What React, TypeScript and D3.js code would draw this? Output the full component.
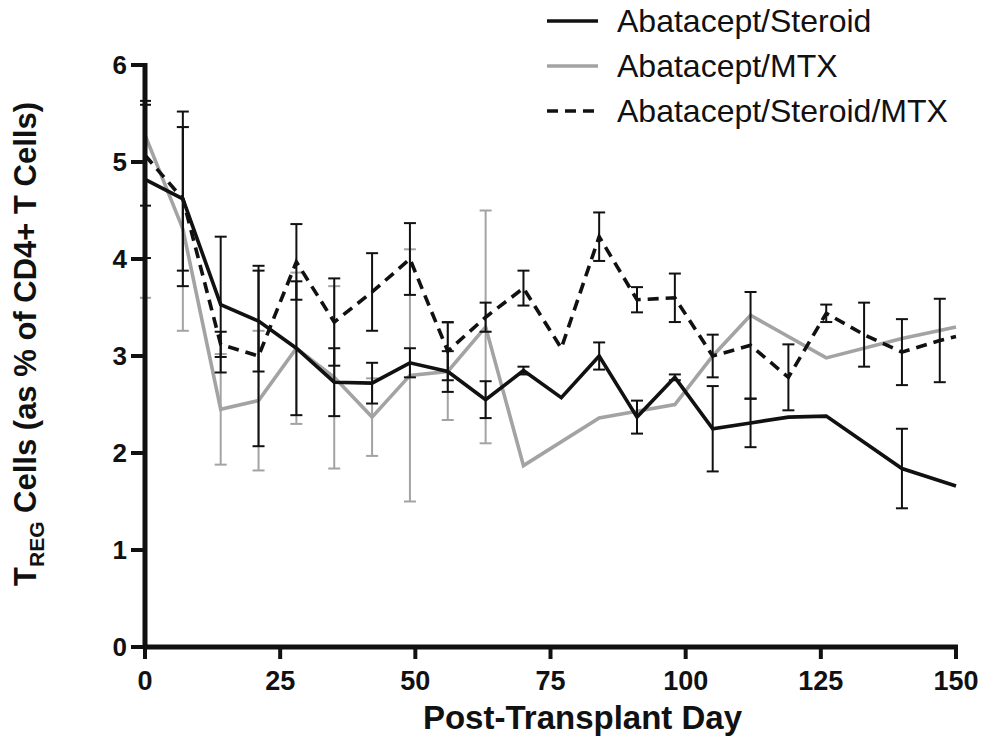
import React from "react";
import * as d3 from "d3";

const days = [0, 7, 14, 21, 28, 35, 42, 49, 56, 63, 70, 77, 84, 91, 98, 105, 112, 119, 126, 133, 140, 147, 150];

// null = no point on that day
const steroidMean = [4.82, 4.62, 3.53, 3.36, 3.08, 2.73, 2.72, 2.93, 2.84, 2.55, 2.85, 2.57, 3.0, 2.37, 2.78, 2.25, 2.31, 2.37, 2.38, null, 1.84, null, 1.66];
const steroidErr = [0.81, 0.9, 0.7, 0.52, 0.69, 0.35, 0.21, 0.15, 0.21, 0.19, 0.04, 0, 0.14, 0.17, 0.03, 0.44, 0.25, 0, 0.02, null, 0.41, null, 0];

const mtxMean = [5.28, 4.31, 2.45, 2.54, 3.08, 2.78, 2.37, 2.8, 2.84, 3.3, 1.87, null, 2.36, 2.43, 2.5, 3.0, 3.42, null, 2.98, null, 3.18, null, 3.3];
const mtxErr = [1.68, 1.05, 0.57, 0.72, 0.78, 0.94, 0.4, 1.3, 0.5, 1.2, 0, null, 0, 0, 0, 0, 0, null, 0, null, 0, null, 0];

const bothMean = [5.07, 4.62, 3.12, 3.0, 3.97, 3.35, 3.66, 4.0, 3.05, 3.4, 3.7, 3.08, 4.23, 3.58, 3.6, 3.0, 3.11, 2.78, 3.44, 3.22, 3.04, 3.16, 3.2];
const bothErr = [0.52, 0.74, 0.13, 0.93, 0.39, 0.45, 0.4, 0.37, 0.3, 0.15, 0.18, 0, 0.25, 0.13, 0.25, 0.22, 0.55, 0.34, 0.09, 0.33, 0.34, 0.43, 0];

const xTicks = [0, 25, 50, 75, 100, 125, 150];
const yTicks = [0, 1, 2, 3, 4, 5, 6];
const legendLabels = ["Abatacept/Steroid", "Abatacept/MTX", "Abatacept/Steroid/MTX"];

const FONT = "'Liberation Sans', Arial, Helvetica, sans-serif";
const BLACK = "#111";
const GRAY = "#a3a3a3";

export default function App() {
  const x = d3.scaleLinear().domain([0, 150]).range([145, 956]);
  const y = d3.scaleLinear().domain([0, 6]).range([647, 65]);

  const series = [
    { mean: mtxMean, err: mtxErr, color: GRAY, dash: null as string | null },
    { mean: steroidMean, err: steroidErr, color: BLACK, dash: null as string | null },
    { mean: bothMean, err: bothErr, color: BLACK, dash: "11,7" },
  ];

  const lineGen = d3
    .line<[number, number]>()
    .x((d) => x(d[0]))
    .y((d) => y(d[1]));

  const legendStyles = [
    { color: BLACK, dash: null as string | null },
    { color: GRAY, dash: null as string | null },
    { color: BLACK, dash: "11,7" },
  ];

  return (
    <svg
      width={982}
      height={754}
      style={{ position: "absolute", left: 0, top: 0, background: "#fff" }}
    >
      <rect width={982} height={754} fill="#fff" />
      <defs>
        <clipPath id="plotclip">
          <rect x={140} y={0} width={820} height={650} />
        </clipPath>
      </defs>

      {/* series */}
      <g clipPath="url(#plotclip)">
        {series.map((s, si) => {
          const pts: [number, number][] = [];
          days.forEach((d, i) => {
            if (s.mean[i] != null) pts.push([d, s.mean[i] as number]);
          });
          return (
            <g key={si}>
              {days.map((d, i) => {
                const m = s.mean[i];
                const e = s.err[i];
                if (m == null || e == null || e <= 0.02) return null;
                const cx = x(d);
                const y1 = y(Math.min(m + e, 6));
                const y2 = y(m - e);
                return (
                  <g key={i} stroke={s.color} strokeWidth={2}>
                    <line x1={cx} x2={cx} y1={y1} y2={y2} />
                    {m + e < 6 && <line x1={cx - 6} x2={cx + 6} y1={y1} y2={y1} />}
                    <line x1={cx - 6} x2={cx + 6} y1={y2} y2={y2} />
                  </g>
                );
              })}
              <path
                d={lineGen(pts) || ""}
                fill="none"
                stroke={s.color}
                strokeWidth={3.6}
                strokeDasharray={s.dash || undefined}
                strokeLinejoin="miter"
              />
            </g>
          );
        })}
      </g>

      {/* axes */}
      <g stroke={BLACK} strokeWidth={5}>
        <line x1={x(0)} x2={x(0)} y1={y(6) - 2} y2={y(0) + 2} />
        <line x1={x(0) - 2} x2={x(150) + 2} y1={y(0)} y2={y(0)} />
        {yTicks.map((t) => (
          <line key={"yt" + t} x1={x(0) - 14} x2={x(0)} y1={y(t)} y2={y(t)} strokeWidth={4} />
        ))}
        {xTicks.map((t) => (
          <line key={"xt" + t} x1={x(t)} x2={x(t)} y1={y(0)} y2={y(0) + 12} strokeWidth={4} />
        ))}
      </g>
      {yTicks.map((t) => (
        <text
          key={"yl" + t}
          x={127}
          y={y(t) + 9}
          textAnchor="end"
          fontFamily={FONT}
          fontWeight="bold"
          fontSize={26}
          fill={BLACK}
        >
          {t}
        </text>
      ))}
      {xTicks.map((t) => (
        <text
          key={"xl" + t}
          x={x(t)}
          y={690}
          textAnchor="middle"
          fontFamily={FONT}
          fontWeight="bold"
          fontSize={27}
          fill={BLACK}
        >
          {t}
        </text>
      ))}

      {/* axis titles */}
      <text
        x={(x(0) + x(150)) / 2 + 32}
        y={729}
        textAnchor="middle"
        fontFamily={FONT}
        fontWeight="bold"
        fontSize={33}
        fill={BLACK}
      >
        Post-Transplant Day
      </text>
      <text
        transform={`translate(36,344) rotate(-90)`}
        textAnchor="middle"
        fontFamily={FONT}
        fontWeight="bold"
        fontSize={31}
        fill={BLACK}
      >
        T
        <tspan fontSize={21} dy={8}>REG</tspan>
        <tspan dy={-8}> Cells (as % of CD4+ T Cells)</tspan>
      </text>

      {/* legend */}
      {legendLabels.map((lab, i) => {
        const ly = 21 + i * 45;
        const st = legendStyles[i];
        return (
          <g key={lab}>
            <line
              x1={547}
              x2={598}
              y1={ly}
              y2={ly}
              stroke={st.color}
              strokeWidth={3.6}
              strokeDasharray={st.dash || undefined}
            />
            <text x={617} y={ly + 11} fontFamily={FONT} fontSize={32} fill={BLACK}>
              {lab}
            </text>
          </g>
        );
      })}
    </svg>
  );
}
